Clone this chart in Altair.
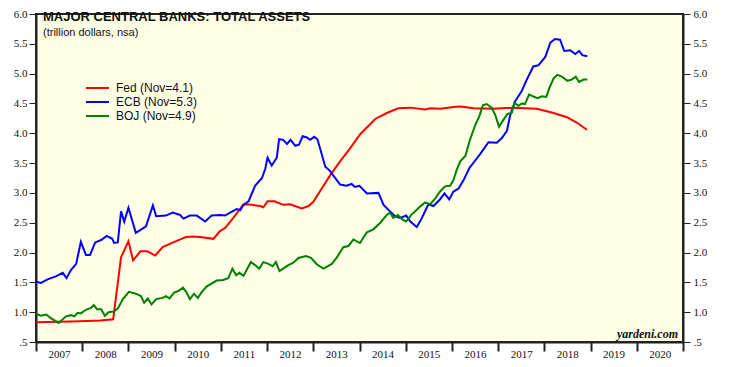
import altair as alt
import pandas as pd

# ---------------- data (fractional year, trillion $) ----------------
fed_t = [2007.00, 2007.52, 2007.95, 2008.39, 2008.67, 2008.84, 2009.00, 2009.10, 2009.26, 2009.41,
         2009.58, 2009.74, 2009.97, 2010.12, 2010.25, 2010.40, 2010.55, 2010.84, 2010.98, 2011.09,
         2011.27, 2011.49, 2011.67, 2011.85, 2011.92, 2012.01, 2012.16, 2012.35, 2012.50, 2012.75,
         2012.90, 2013.00, 2013.18, 2013.36, 2013.58, 2013.80, 2014.01, 2014.34, 2014.59, 2014.84,
         2015.10, 2015.42, 2015.53, 2015.75, 2016.03, 2016.18, 2016.47, 2016.90, 2017.33, 2017.84,
         2018.20, 2018.49, 2018.70, 2018.92]
fed_v = [0.83, 0.84, 0.85, 0.86, 0.88, 1.92, 2.19, 1.87, 2.02, 2.02,
         1.95, 2.09, 2.17, 2.22, 2.26, 2.27, 2.26, 2.23, 2.36, 2.41,
         2.58, 2.81, 2.80, 2.78, 2.76, 2.86, 2.86, 2.80, 2.81, 2.74,
         2.78, 2.85, 3.07, 3.29, 3.53, 3.75, 3.98, 4.24, 4.34, 4.42,
         4.43, 4.40, 4.42, 4.41, 4.44, 4.45, 4.42, 4.41, 4.43, 4.41,
         4.34, 4.27, 4.18, 4.06]

ecb_t = [2007.00, 2007.11, 2007.25, 2007.43, 2007.58, 2007.66, 2007.76, 2007.87, 2007.97, 2008.08,
         2008.17, 2008.28, 2008.41, 2008.53, 2008.65, 2008.69, 2008.77, 2008.84, 2008.91, 2009.00,
         2009.16, 2009.38, 2009.53, 2009.60, 2009.81, 2009.96, 2010.12, 2010.19, 2010.33, 2010.48,
         2010.66, 2010.80, 2010.98, 2011.09, 2011.20, 2011.34, 2011.42, 2011.49, 2011.60, 2011.74,
         2011.89, 2011.96, 2012.01, 2012.10, 2012.21, 2012.26, 2012.35, 2012.43, 2012.51, 2012.61,
         2012.69, 2012.77, 2012.86, 2012.93, 2013.02, 2013.09, 2013.26, 2013.36, 2013.58, 2013.72,
         2013.83, 2013.90, 2014.00, 2014.16, 2014.41, 2014.52, 2014.66, 2014.77, 2014.88, 2015.01,
         2015.10, 2015.24, 2015.35, 2015.49, 2015.60, 2015.74, 2015.84, 2015.94, 2016.03, 2016.14,
         2016.25, 2016.38, 2016.47, 2016.61, 2016.79, 2016.97, 2017.08, 2017.19, 2017.26, 2017.37,
         2017.51, 2017.62, 2017.76, 2017.87, 2018.02, 2018.13, 2018.23, 2018.34, 2018.43, 2018.56,
         2018.67, 2018.75, 2018.82, 2018.93]
ecb_v = [1.51, 1.49, 1.55, 1.60, 1.66, 1.57, 1.71, 1.81, 2.18, 1.96,
         1.96, 2.17, 2.21, 2.28, 2.23, 2.16, 2.17, 2.69, 2.52, 2.75,
         2.33, 2.44, 2.79, 2.61, 2.62, 2.67, 2.63, 2.57, 2.62, 2.62,
         2.52, 2.62, 2.63, 2.62, 2.67, 2.73, 2.71, 2.80, 2.86, 3.12,
         3.25, 3.40, 3.59, 3.46, 3.59, 3.90, 3.89, 3.82, 3.89, 3.79,
         3.81, 3.95, 3.93, 3.89, 3.94, 3.90, 3.44, 3.37, 3.14, 3.12,
         3.15, 3.10, 3.12, 2.99, 3.00, 2.80, 2.69, 2.61, 2.58, 2.62,
         2.52, 2.43, 2.58, 2.81, 2.78, 2.89, 2.99, 2.89, 3.02, 3.07,
         3.21, 3.42, 3.51, 3.65, 3.85, 3.84, 3.92, 4.04, 4.30, 4.54,
         4.71, 4.90, 5.12, 5.14, 5.28, 5.52, 5.58, 5.57, 5.38, 5.39,
         5.33, 5.38, 5.31, 5.29]

boj_t = [2007.00, 2007.11, 2007.22, 2007.32, 2007.49, 2007.65, 2007.76, 2007.83, 2007.90, 2007.97,
         2008.08, 2008.19, 2008.25, 2008.32, 2008.41, 2008.49, 2008.57, 2008.68, 2008.77, 2008.88,
         2009.01, 2009.16, 2009.27, 2009.34, 2009.42, 2009.50, 2009.60, 2009.74, 2009.81, 2009.89,
         2009.99, 2010.07, 2010.18, 2010.25, 2010.33, 2010.42, 2010.50, 2010.59, 2010.69, 2010.91,
         2011.05, 2011.16, 2011.25, 2011.33, 2011.40, 2011.49, 2011.56, 2011.65, 2011.74, 2011.83,
         2011.92, 2012.03, 2012.12, 2012.19, 2012.27, 2012.35, 2012.46, 2012.57, 2012.68, 2012.84,
         2012.95, 2013.08, 2013.22, 2013.40, 2013.51, 2013.65, 2013.76, 2013.87, 2014.01, 2014.16,
         2014.30, 2014.45, 2014.59, 2014.66, 2014.73, 2014.83, 2014.92, 2015.01, 2015.13, 2015.20,
         2015.31, 2015.42, 2015.53, 2015.64, 2015.74, 2015.85, 2015.96, 2016.03, 2016.11, 2016.18,
         2016.29, 2016.39, 2016.50, 2016.60, 2016.67, 2016.75, 2016.86, 2016.94, 2017.02, 2017.11,
         2017.20, 2017.30, 2017.35, 2017.44, 2017.51, 2017.58, 2017.67, 2017.76, 2017.85, 2017.95,
         2018.04, 2018.11, 2018.20, 2018.28, 2018.38, 2018.50, 2018.59, 2018.68, 2018.75, 2018.85,
         2018.93]
boj_v = [0.97, 0.94, 0.96, 0.90, 0.82, 0.93, 0.95, 0.93, 0.99, 0.98,
         1.04, 1.07, 1.12, 1.05, 1.05, 0.94, 1.00, 1.01, 1.06, 1.22,
         1.34, 1.31, 1.27, 1.16, 1.23, 1.13, 1.22, 1.24, 1.27, 1.23,
         1.33, 1.35, 1.41, 1.34, 1.22, 1.31, 1.24, 1.34, 1.43, 1.53,
         1.54, 1.57, 1.73, 1.62, 1.66, 1.61, 1.71, 1.84, 1.79, 1.73,
         1.84, 1.81, 1.77, 1.84, 1.69, 1.73, 1.79, 1.83, 1.91, 1.94,
         1.91, 1.80, 1.73, 1.81, 1.92, 2.09, 2.11, 2.22, 2.16, 2.34,
         2.39, 2.50, 2.63, 2.67, 2.58, 2.63, 2.56, 2.52, 2.64, 2.69,
         2.77, 2.84, 2.81, 2.91, 3.02, 3.11, 3.12, 3.21, 3.40, 3.53,
         3.62, 3.89, 4.13, 4.30, 4.47, 4.49, 4.43, 4.30, 4.11, 4.22,
         4.32, 4.35, 4.51, 4.46, 4.50, 4.49, 4.65, 4.62, 4.59, 4.62,
         4.61, 4.76, 4.92, 4.98, 4.95, 4.88, 4.90, 4.95, 4.86, 4.90,
         4.90]

series_names = ["Fed (Nov=4.1)", "ECB (Nov=5.3)", "BOJ (Nov=4.9)"]
series_colors = ["#ff0000", "#0000ff", "#008000"]
year_ticks = list(range(2007, 2022))
y_ticks = [0.5, 1.0, 1.5, 2.0, 2.5, 3.0, 3.5, 4.0, 4.5, 5.0, 5.5, 6.0]

title_text = "MAJOR CENTRAL BANKS: TOTAL ASSETS"
subtitle_text = "(trillion dollars, nsa)"
source_text = "yardeni.com"

rows = []
for name, ts, vs in zip(series_names, [fed_t, ecb_t, boj_t], [fed_v, ecb_v, boj_v]):
    for t, v in zip(ts, vs):
        rows.append({"bank": name, "t": t, "v": v})
df = pd.DataFrame(rows)

W, H = 647, 328
SERIF = "Liberation Serif, Times New Roman, serif"
SANS = "Liberation Sans, Arial, sans-serif"

x_enc = alt.X(
    "t:Q",
    scale=alt.Scale(domain=[2007, 2021], nice=False, zero=False),
    axis=alt.Axis(
        values=year_ticks,
        labelExpr="datum.value == 2021 ? '' : format(datum.value, 'd')",
        labelOffset=23, labelPadding=-3, tickSize=9, tickWidth=2,
        labelFlush=False, labelOverlap=False, labelBound=False,
        grid=False, title=None, domainWidth=2, domainColor="#222", tickColor="#222",
        labelFont=SERIF, labelFontSize=11, labelColor="#111",
    ),
)

y_scale = alt.Scale(domain=[0.5, 6.0], nice=False, zero=False)
y_label_expr = "datum.value == 0.5 ? '.5' : format(datum.value, '.1f')"

lines = alt.Chart(df).mark_line(strokeWidth=2).encode(
    x=x_enc,
    y=alt.Y("v:Q", scale=y_scale,
            axis=alt.Axis(values=y_ticks, labelExpr=y_label_expr, orient="left",
                          tickSize=7, labelPadding=2, grid=False, title=None,
                          domainWidth=2, domainColor="#222", tickColor="#222",
                          labelFont=SERIF, labelFontSize=11, labelColor="#111")),
    color=alt.Color("bank:N", sort=series_names,
                    scale=alt.Scale(domain=series_names, range=series_colors),
                    legend=alt.Legend(orient="none", legendX=49, legendY=68, title=None,
                                      symbolType="stroke", symbolSize=529, symbolStrokeWidth=2,
                                      labelFont=SANS, labelFontSize=12, labelColor="#111",
                                      clipHeight=12, rowPadding=2, labelOffset=6, padding=0)),
    order=alt.Order("t:Q"),
)

right_axis = alt.Chart(df).mark_point(opacity=0).encode(
    x=x_enc,
    y=alt.Y("v:Q", scale=y_scale,
            axis=alt.Axis(values=y_ticks, labelExpr=y_label_expr, orient="right",
                          tickSize=7, labelPadding=3, grid=False, title=None,
                          domainWidth=2, domainColor="#222", tickColor="#222",
                          labelFont=SERIF, labelFontSize=11, labelColor="#111")),
)

title = alt.Chart(pd.DataFrame({"s": [title_text]})).mark_text(
    align="left", baseline="alphabetic", font=SANS, fontSize=13, fontWeight="bold", color="#111"
).encode(x=alt.value(7), y=alt.value(7), text="s:N")

subtitle = alt.Chart(pd.DataFrame({"s": [subtitle_text]})).mark_text(
    align="left", baseline="alphabetic", font=SANS, fontSize=11, color="#111"
).encode(x=alt.value(7), y=alt.value(22), text="s:N")

source = alt.Chart(pd.DataFrame({"s": [source_text]})).mark_text(
    align="right", baseline="alphabetic", font=SERIF, fontSize=12, fontWeight="bold",
    fontStyle="italic", color="#111"
).encode(x=alt.value(642), y=alt.value(324), text="s:N")

chart = (
    alt.layer(lines, right_axis, title, subtitle, source)
    .resolve_scale(y="independent")
    .properties(width=W, height=H, autosize=alt.AutoSizeParams(type="none"),
                padding={"left": 28, "top": 6, "right": 40, "bottom": 22},
                background="white")
    .configure_view(fill="#FFFFE6", stroke="#222", strokeWidth=2)
)

chart.save("out.html", embed_options={"renderer": "svg", "actions": False})
